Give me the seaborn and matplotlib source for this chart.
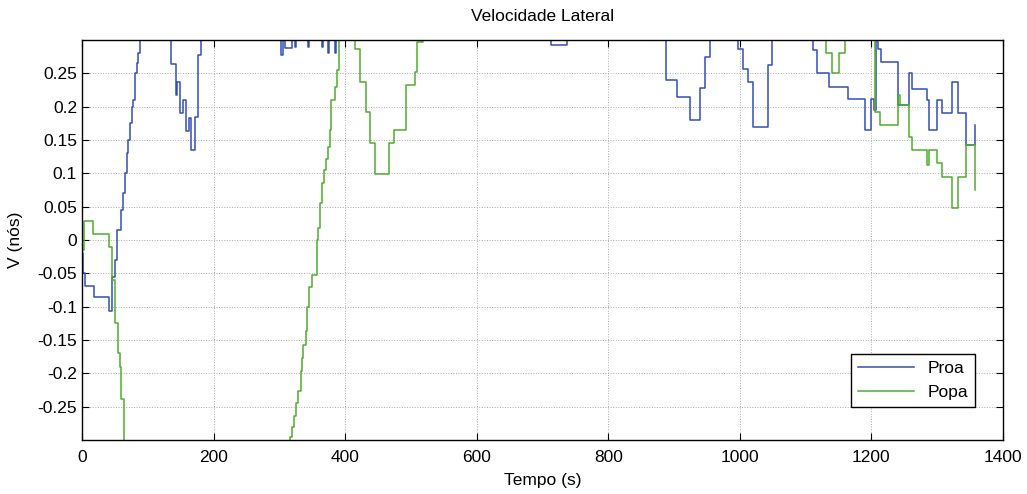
import numpy as np
import pandas as pd
import matplotlib
matplotlib.use("Agg")
import matplotlib.pyplot as plt
import seaborn as sns
from matplotlib.ticker import FuncFormatter

# Dados (tempo em s, velocidade em nos) - degraus
tempo_proa = [0, 1, 4.5, 19, 41.5, 46, 50, 53, 59, 62, 65, 68, 70, 73, 75.5, 78, 80, 83, 85, 88,
              136, 143, 145, 149, 153, 158, 163, 166, 172, 177, 181,
              303, 305, 308, 319, 324, 326, 343, 345, 365, 367, 374, 376, 384, 386,
              713, 737,
              888, 905, 924, 939, 947, 954,
              997, 1005, 1012, 1020, 1043, 1049,
              1111, 1117, 1135, 1165, 1191, 1200, 1204, 1207, 1210, 1215, 1241, 1257, 1261,
              1284, 1288, 1300, 1308, 1322, 1331, 1344, 1357]
v_proa = [-0.02, -0.05, -0.069, -0.086, -0.106, -0.055, -0.03, 0.015, 0.045, 0.07, 0.1, 0.13, 0.15, 0.175, 0.2, 0.21, 0.25, 0.265, 0.28, 0.35,
          0.264, 0.217, 0.237, 0.19, 0.21, 0.163, 0.183, 0.135, 0.185, 0.277, 0.35,
          0.277, 0.35, 0.288, 0.35, 0.29, 0.35, 0.29, 0.35, 0.29, 0.35, 0.28, 0.35, 0.28, 0.35,
          0.293, 0.35,
          0.24, 0.215, 0.18, 0.228, 0.274, 0.35,
          0.287, 0.257, 0.237, 0.17, 0.262, 0.35,
          0.285, 0.25, 0.23, 0.212, 0.165, 0.212, 0.195, 0.35, 0.287, 0.267, 0.202, 0.25, 0.227,
          0.21, 0.165, 0.21, 0.19, 0.237, 0.19, 0.142, 0.172]

tempo_popa = [0, 3, 17, 41.5, 45, 50, 55, 58, 60, 64,
              317, 319, 322, 326, 329, 333, 334, 336, 340, 342, 345, 349, 357, 359, 362, 365, 368,
              371, 374, 377, 379, 384, 387, 390,
              415, 422.5, 431.6, 437.7, 445, 467, 474, 492, 506, 509, 518,
              1131, 1140, 1150, 1160, 1205, 1213, 1241, 1243, 1257, 1262, 1284, 1288, 1300,
              1308, 1322, 1331, 1344, 1357]
v_popa = [-0.015, 0.029, 0.009, -0.01, -0.06, -0.125, -0.17, -0.19, -0.238, -0.35,
          -0.295, -0.281, -0.264, -0.244, -0.227, -0.197, -0.177, -0.157, -0.137, -0.1, -0.07, -0.052, 0.0, 0.018, 0.055, 0.085, 0.105,
          0.122, 0.14, 0.165, 0.21, 0.23, 0.255, 0.35,
          0.287, 0.237, 0.192, 0.145, 0.099, 0.145, 0.165, 0.232, 0.252, 0.297, 0.35,
          0.28, 0.25, 0.28, 0.35, 0.192, 0.172, 0.217, 0.202, 0.155, 0.135, 0.112, 0.135, 0.115,
          0.095, 0.048, 0.095, 0.142, 0.075]

plt.rcParams['font.family'] = ['Liberation Sans', 'DejaVu Sans']
plt.rcParams['axes.unicode_minus'] = False

fig = plt.figure(figsize=(10.27, 4.94), dpi=100)
ax = fig.add_axes([0.0798, 0.1093, 0.8968, 0.8097])

sns.lineplot(x=tempo_proa, y=v_proa, ax=ax, color='#3350b5', linewidth=1.1,
             drawstyle='steps-post', estimator=None, sort=False, label='Proa')
sns.lineplot(x=tempo_popa, y=v_popa, ax=ax, color='#4fad2c', linewidth=1.1,
             drawstyle='steps-post', estimator=None, sort=False, label='Popa')

ax.set_xlim(0, 1400)
ax.set_ylim(-0.3, 0.3)
ax.set_xticks(np.arange(0, 1401, 200))
ax.set_yticks(np.round(np.arange(-0.25, 0.2501, 0.05), 2))
ax.yaxis.set_major_formatter(FuncFormatter(lambda v, p: '%g' % (round(v, 2) + 0.0)))
ax.tick_params(direction='in', top=True, right=True, length=5, labelsize=12.5, width=0.8)
ax.tick_params(axis='x', pad=7)
ax.grid(True, linestyle=':', color='#aaaaaa', linewidth=0.7)
for s in ax.spines.values():
    s.set_color('black')
    s.set_linewidth(1.0)

ax.set_title('Velocidade Lateral', fontsize=12.5, pad=14)
ax.set_xlabel('Tempo (s)', fontsize=12.5, labelpad=6)
ax.set_ylabel('V (nós)', fontsize=12.5, labelpad=10)

leg = ax.legend(loc='lower right', bbox_to_anchor=(0.9696, 0.0825), borderaxespad=0,
                fancybox=False, edgecolor='black', framealpha=1, fontsize=12.5,
                handlelength=3.2, borderpad=0.4, labelspacing=0.5)
leg.get_frame().set_linewidth(1.0)

fig.savefig('out.png', dpi=100)
